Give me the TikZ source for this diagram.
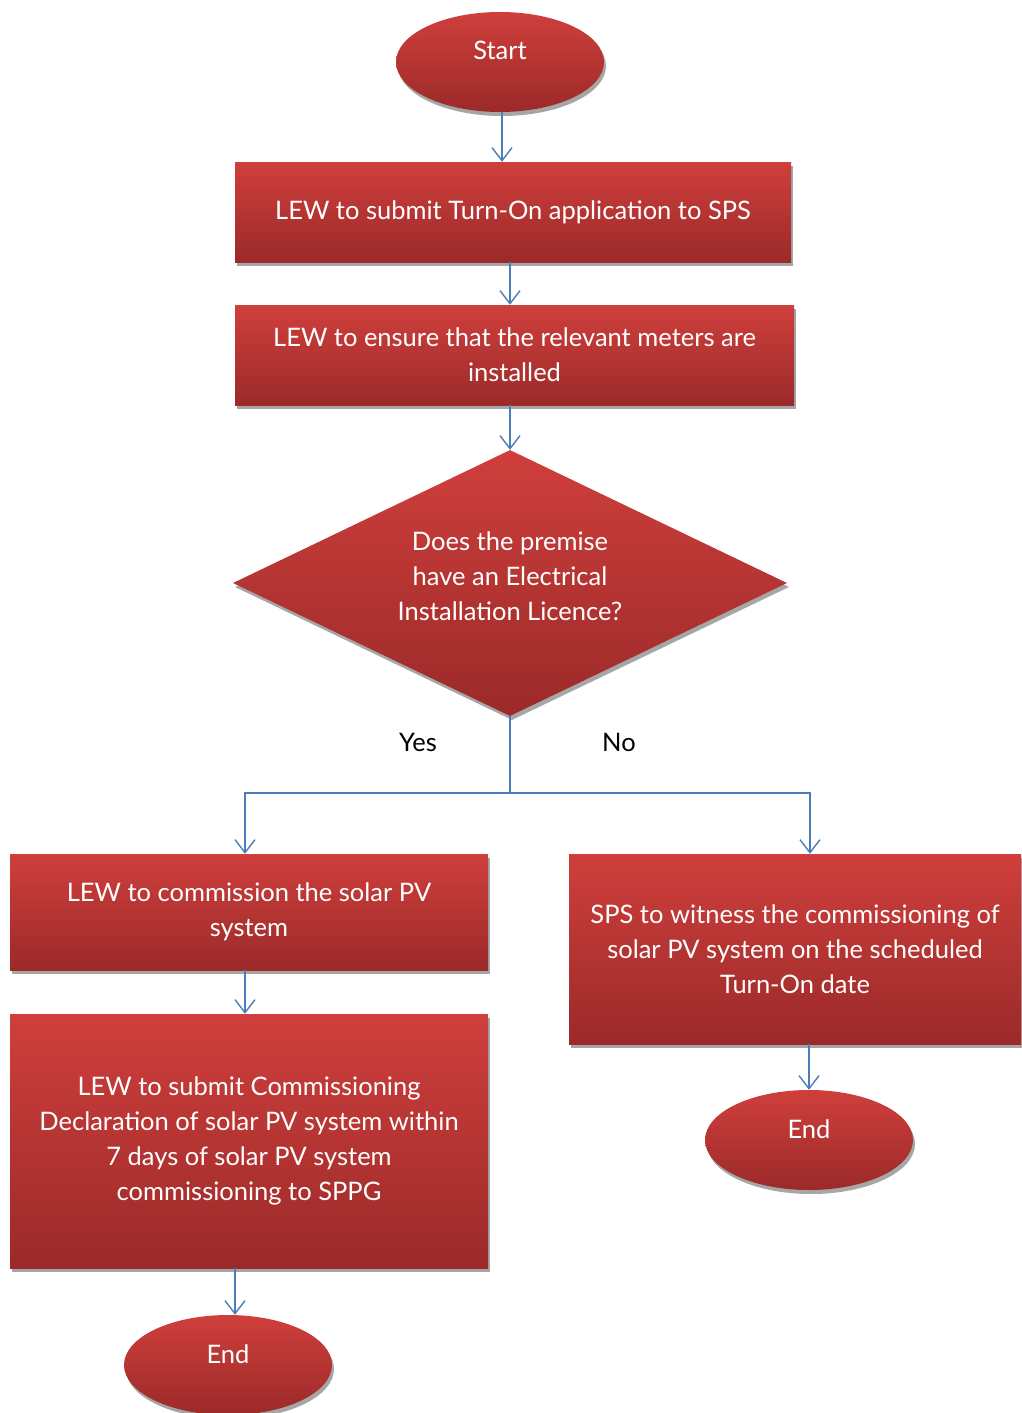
\documentclass[tikz,border=0pt]{standalone}
\usepackage{fontspec}
\setmainfont{Lato}
\usetikzlibrary{shapes.geometric,shadows,arrows.meta}
\definecolor{boxtop}{HTML}{CF3F3C}
\definecolor{boxbot}{HTML}{9B2A29}
\definecolor{flowblue}{HTML}{4A7EBB}
\begin{document}
\begin{tikzpicture}[x=1pt,y=-1pt,
    redfill/.style={top color=boxtop, bottom color=boxbot, draw=none, text=white,
        font=\fontsize{25.5}{35}\selectfont, align=center,
        drop shadow={shadow xshift=2pt, shadow yshift=-4pt, fill=black!35, opacity=1}},
    endpoint/.style={redfill, ellipse, minimum width=208pt, minimum height=100pt, inner sep=0pt},
    stepbox/.style={redfill, rectangle, inner sep=0pt},
    decision/.style={redfill, diamond, aspect=2.1, minimum width=554pt, minimum height=266pt, inner sep=0pt},
    answer/.style={font=\fontsize{25.5}{35}\selectfont},
    flow/.style={draw=flowblue, line width=1.4pt, -{Straight Barb[length=13pt, width=20pt]}}]
    \clip (0,0) rectangle (1022,1413);
    \node [endpoint] (start) at (500,62) {\raisebox{23pt}{Start}};
    \node [stepbox, minimum width=556pt, minimum height=100pt] (submit) at (513,212)
        {LEW to submit Turn-On application to SPS};
    \node [stepbox, minimum width=559pt, minimum height=100pt] (meters) at (514.5,355)
        {LEW to ensure that the relevant meters are\\installed};
    \node [decision] (licence) at (510,583)
        {\raisebox{5pt}[\height][\depth]{\begin{tabular}{@{}c@{}}Does the premise\\have an Electrical\\Installation Licence?\end{tabular}}};
    \node [answer] (yes) at (418,742) {Yes};
    \node [answer] (no) at (619,742) {No};
    \coordinate (split) at (510,793);
    \node [stepbox, minimum width=478pt, minimum height=116pt] (commission) at (249,912)
        {LEW to commission the solar PV\\system};
    \node [stepbox, minimum width=478pt, minimum height=254pt] (declare) at (249,1141)
        {LEW to submit Commissioning\\Declaration of solar PV system within\\7 days of solar PV system\\commissioning to SPPG};
    \node [stepbox, minimum width=452pt, minimum height=190pt] (witness) at (795,949)
        {SPS to witness the commissioning of\\solar PV system on the scheduled\\Turn-On date};
    \node [endpoint] (endyes) at (228,1365) {\raisebox{22pt}{End}};
    \node [endpoint] (endno) at (809,1140) {\raisebox{22pt}{End}};
    \draw [flow] ([xshift=2pt]start.south) -- ([xshift=2pt]start.south |- submit.north);
    \draw [flow] ([xshift=-3pt]submit.south) -- ([xshift=-3pt]submit.south |- meters.north);
    \draw [flow] (licence |- meters.south) -- (licence.north);
    \draw [draw=flowblue, line width=1.4pt] (licence.south) -- (split);
    \draw [flow] (split) -| ([xshift=-4pt]commission.north);
    \draw [flow] (split) -| ([xshift=15pt]witness.north);
    \draw [flow] ([xshift=-4pt]commission.south) -- ([xshift=-4pt]declare.north);
    \draw [flow] ([xshift=7pt]endyes.north |- declare.south) -- ([xshift=7pt]endyes.north);
    \draw [flow] (endno.north |- witness.south) -- (endno.north);
\end{tikzpicture}
\end{document}
